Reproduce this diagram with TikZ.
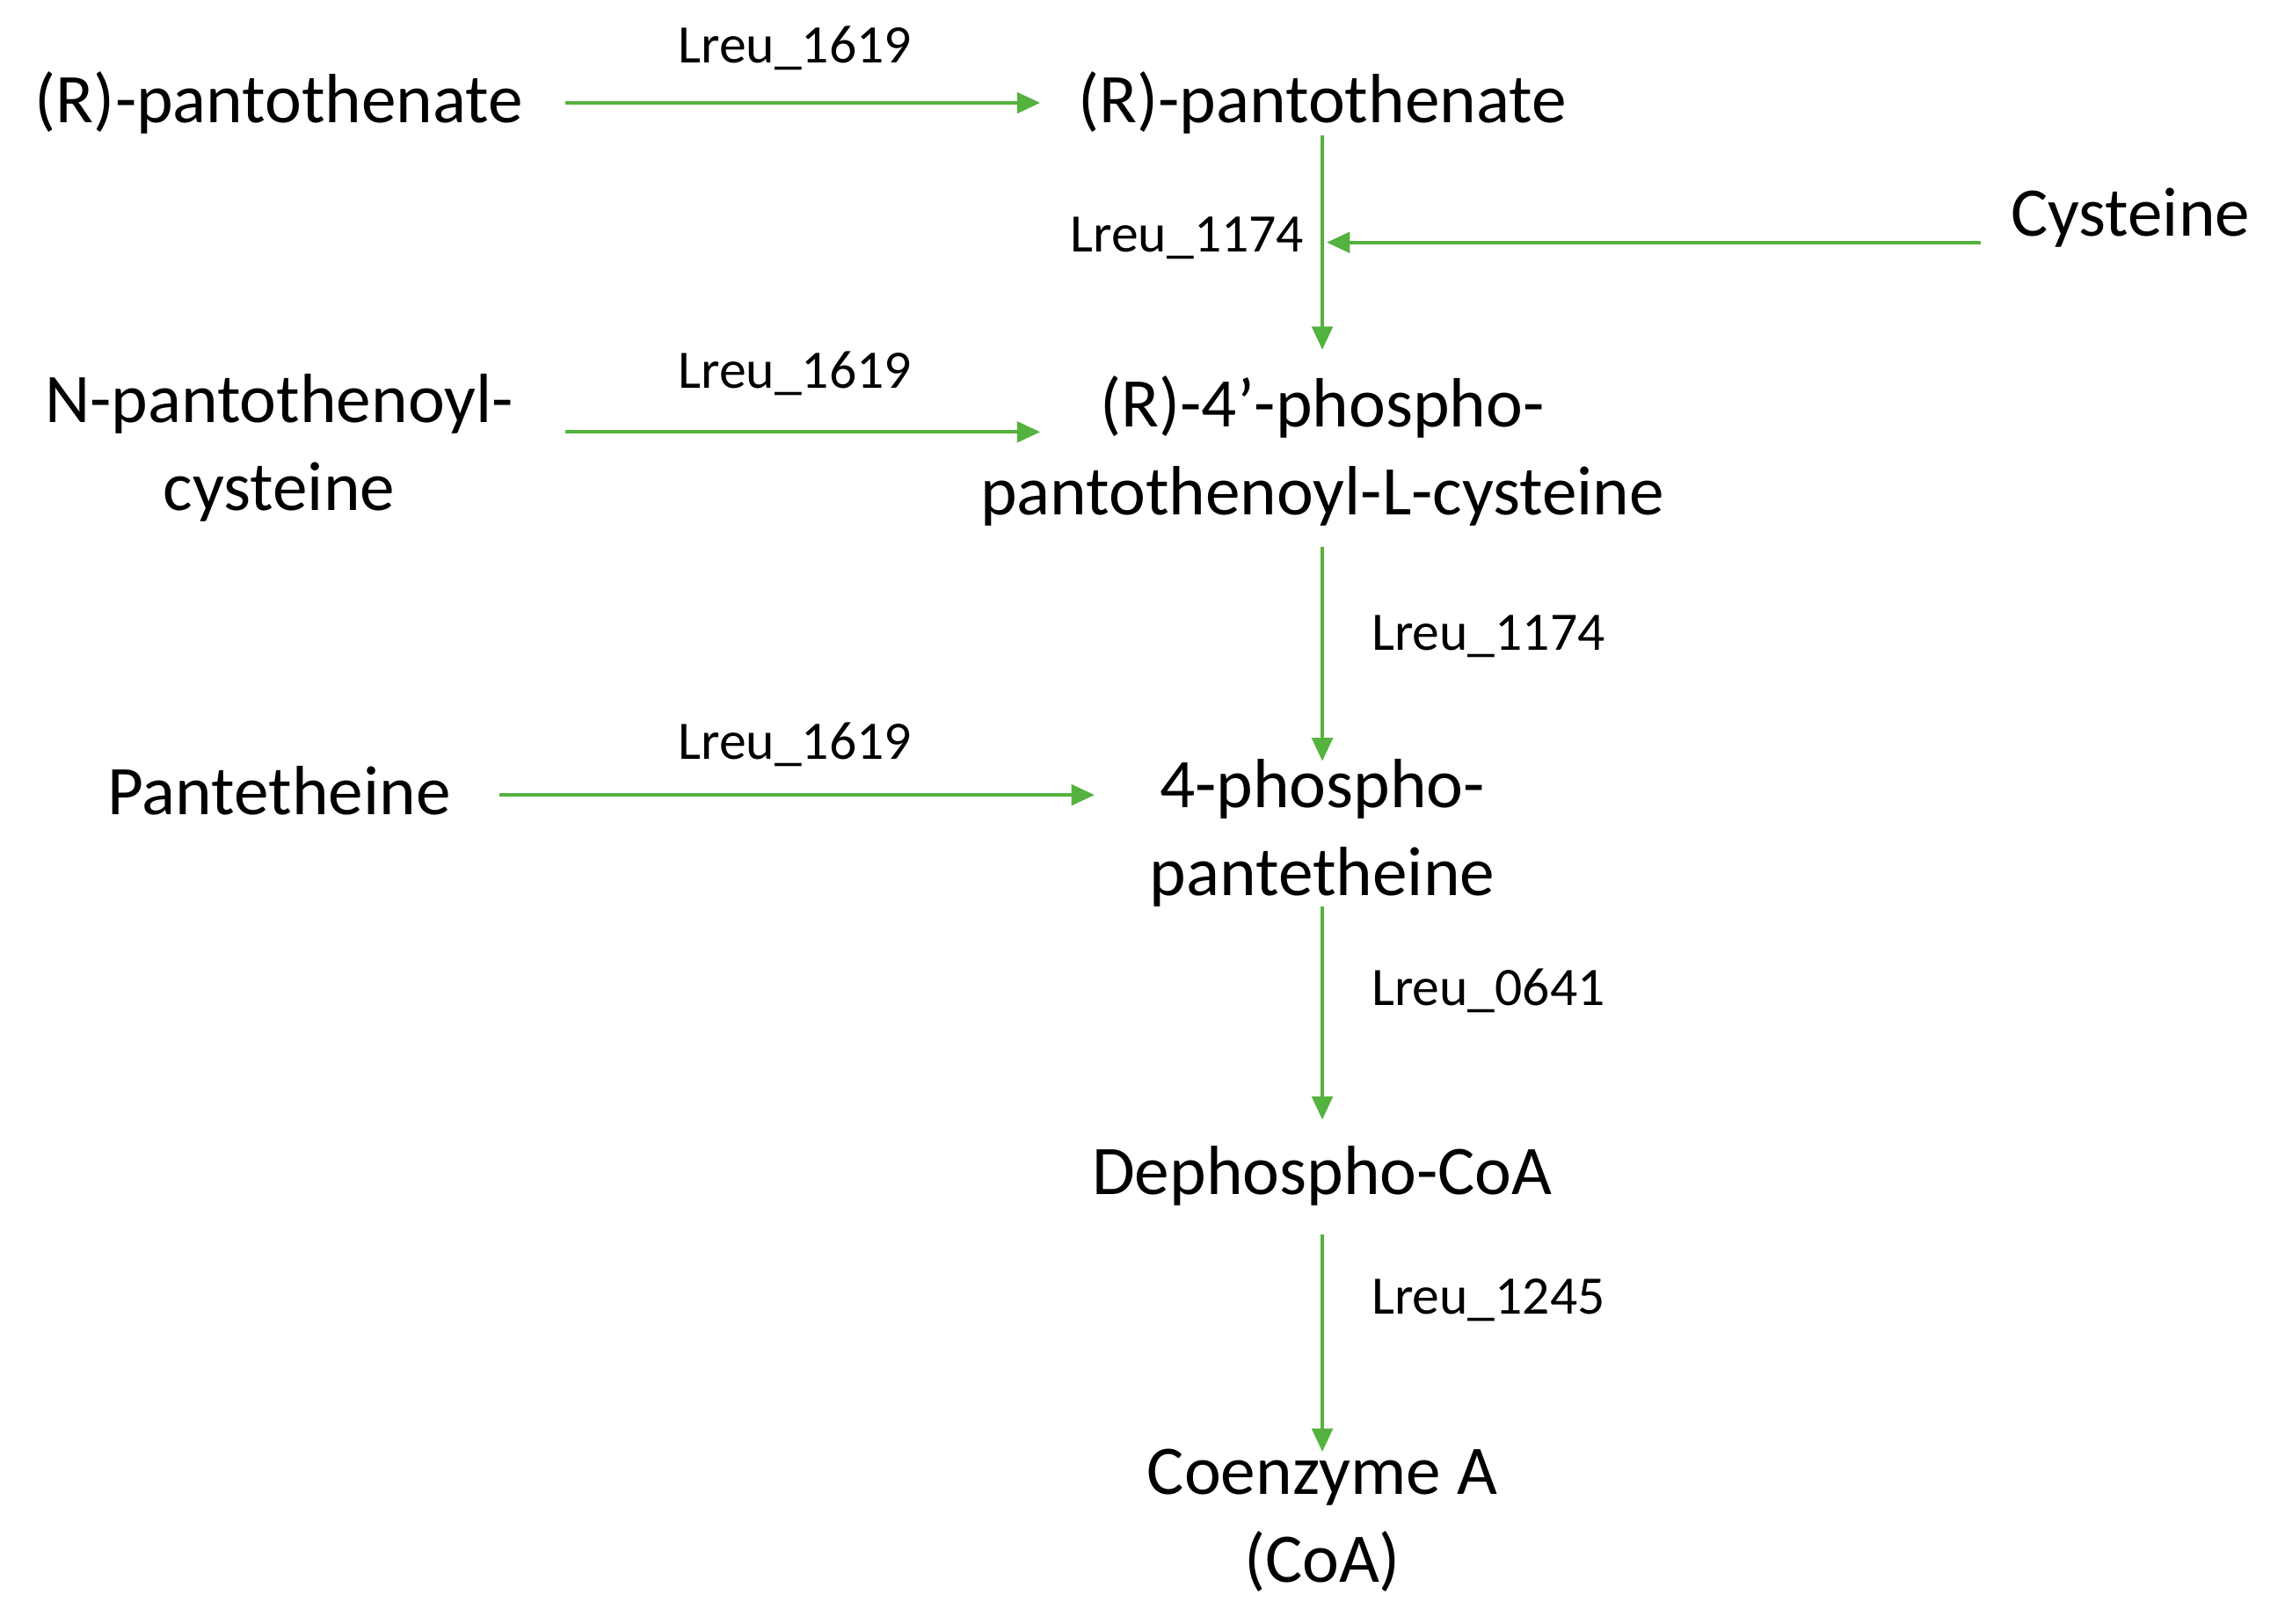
\documentclass[tikz,border=0pt]{standalone}
\usepackage{fontspec}
\setmainfont{Carlito}
\usetikzlibrary{arrows.meta}
\definecolor{grn}{RGB}{84,178,62}
\begin{document}
\begin{tikzpicture}[x=0.02cm,y=-0.02cm,
  met/.style={font=\fontsize{27}{34}\selectfont,align=center,inner sep=0},
  lab/.style={font=\fontsize{21}{25}\selectfont,inner sep=0},
  rx/.style={draw=grn,line width=1.4pt,-{Triangle[length=9pt,width=8pt]}}]
\useasboundingbox (0,0) rectangle (1560,1105);
\node[met] (a) at (190,70) {(R)-pantothenate};
\node[met] (b) at (900,70) {(R)-pantothenate};
\node[met] (cys) at (1450,148) {Cysteine};
\node[met] (n) at (190,305) {N-pantothenoyl-\\cysteine};
\node[met] (c) at (900,307) {(R)-4’-phospho-\\pantothenoyl-L-cysteine};
\node[met] (p) at (190,538) {Pantetheine};
\node[met] (d) at (900,567) {4-phospho-\\pantetheine};
\node[met] (e) at (900,800) {Dephospho-CoA};
\node[met] (f) at (900,1035) {Coenzyme A\\(CoA)};
\coordinate (a1) at (385,70); \coordinate (a2) at (708,70);
\coordinate (n1) at (385,294); \coordinate (n2) at (708,294);
\coordinate (p1) at (340,541); \coordinate (p2) at (745,541);
\coordinate (b1) at (900,92); \coordinate (b2) at (900,238);
\coordinate (c1) at (1348,165); \coordinate (c2) at (903,165);
\coordinate (d1) at (900,372); \coordinate (d2) at (900,518);
\coordinate (e1) at (900,617); \coordinate (e2) at (900,762);
\coordinate (f1) at (900,840); \coordinate (f2) at (900,988);
\draw[rx] (a1) -- (a2);
\draw[rx] (n1) -- (n2);
\draw[rx] (p1) -- (p2);
\draw[rx] (b1) -- (b2);
\draw[rx] (c1) -- (c2);
\draw[rx] (d1) -- (d2);
\draw[rx] (e1) -- (e2);
\draw[rx] (f1) -- (f2);
\node[lab] (l1) at (541,33) {Lreu\_1619};
\node[lab] (l2) at (541,254) {Lreu\_1619};
\node[lab] (l3) at (541,507) {Lreu\_1619};
\node[lab] (l4) at (808,162) {Lreu\_1174};
\node[lab] (l5) at (1013,433) {Lreu\_1174};
\node[lab] (l6) at (1013,674) {Lreu\_0641};
\node[lab] (l7) at (1013,885) {Lreu\_1245};
\end{tikzpicture}
\end{document}
